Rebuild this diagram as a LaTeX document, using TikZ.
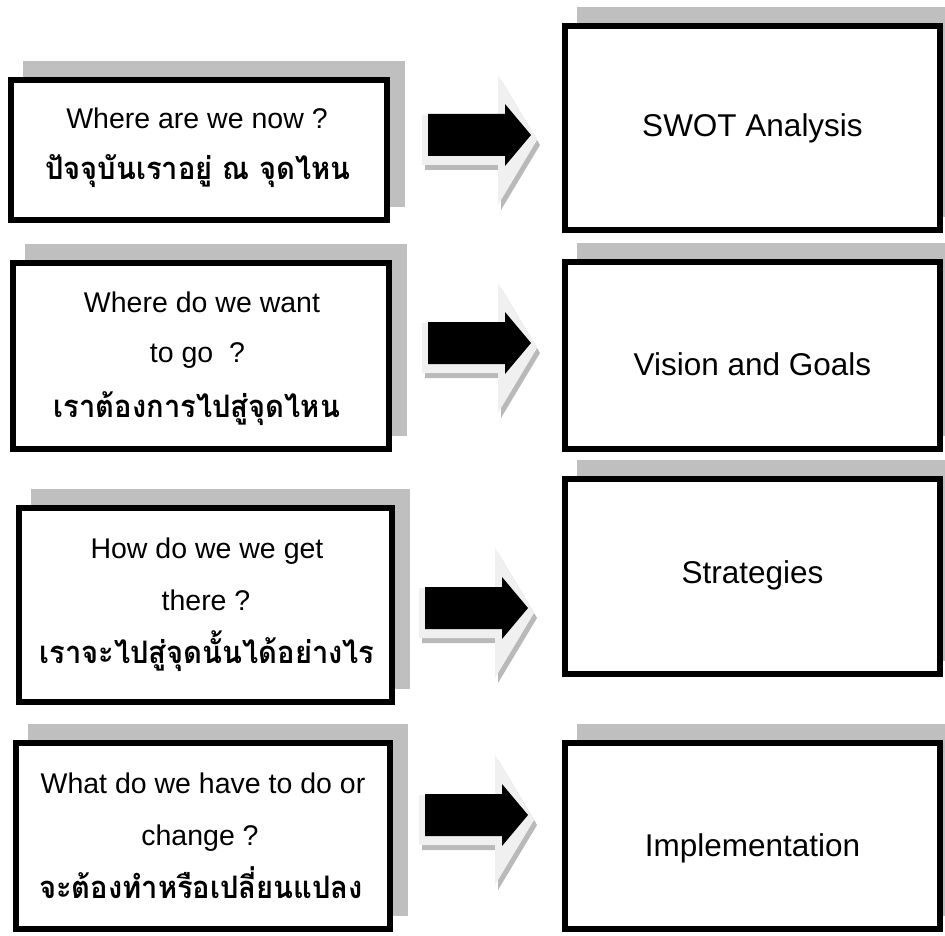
\documentclass[tikz,border=0pt]{standalone}
\usepackage{fontspec}
\setmainfont{Liberation Sans}
\newfontfamily\thaifont[Script=Thai, FakeStretch=0.94]{Loma}
\usetikzlibrary{shadows}
\definecolor{shadowgray}{RGB}{191,191,191}
\definecolor{framegray}{RGB}{240,240,240}
\definecolor{edgegray}{RGB}{185,185,185}
\begin{document}
\begin{tikzpicture}[x=1pt,y=-1pt,
  stepbox/.style={draw=black, line width=6pt, fill=white, rectangle, inner sep=0pt,
    general shadow={fill=shadowgray, draw=shadowgray, line width=6pt,
      shadow xshift=15pt, shadow yshift=16pt}},
  entext/.style={font=\fontsize{28.5}{34}\selectfont, anchor=base, inner sep=0pt},
  thtext/.style={font=\thaifont\bfseries\fontsize{31}{36}\selectfont, anchor=base, inner sep=0pt},
  rtext/.style={font=\fontsize{31.5}{38}\selectfont, anchor=base, inner sep=0pt},
  blockarrow/.pic={
    % drop edge of the raised arrow
    \fill[edgegray] (-3,-15) -- (73,-15) -- (73,-55) -- (112,10) -- (73,75) -- (73,35) -- (-3,35) -- cycle;
    % light bevel frame
    \fill[framegray] (-6,-20) -- (70,-20) -- (70,-60) -- (109,5) -- (70,70) -- (70,30) -- (-6,30) -- cycle;
    % black face
    \fill[black] (0,-21) -- (77,-21) -- (77,-31) -- (103,0) -- (77,31) -- (77,21) -- (0,21) -- cycle;
  }]
\useasboundingbox (0,0) rectangle (945,936);

% question boxes (left column)
\node[stepbox, minimum width=376pt, minimum height=140pt] (L1) at (199,150) {};
\node[stepbox, minimum width=376pt, minimum height=186pt] (L2) at (201,356) {};
\node[stepbox, minimum width=373pt, minimum height=194pt] (L3) at (205.5,605) {};
\node[stepbox, minimum width=374pt, minimum height=186pt] (L4) at (203,836) {};

% answer boxes (right column)
\node[stepbox, minimum width=375pt, minimum height=204pt] (R1) at (752.5,128) {};
\node[stepbox, minimum width=375pt, minimum height=187pt] (R2) at (752.5,355.5) {};
\node[stepbox, minimum width=375pt, minimum height=195pt] (R3) at (752.5,576.5) {};
\node[stepbox, minimum width=375pt, minimum height=186pt] (R4) at (752.5,836) {};

% question texts
\node[entext] (L1a) at (197,129) {Where are we now ?};
\node[thtext] (L1b) at (198,180) {ปัจจุบันเราอยู่ ณ จุดไหน};
\node[entext] (L2a) at (202,312) {Where do we want};
\node[entext] (L2b) at (197.5,362) {to go\ \ ?};
\node[thtext] (L2c) at (197,417) {เราต้องการไปสู่จุดไหน};
\node[entext] (L3a) at (207,558) {How do we we get};
\node[entext] (L3b) at (206,610) {there ?};
\node[thtext] (L3c) at (207,663) {เราจะไปสู่จุดนั้นได้อย่างไร};
\node[entext] (L4a) at (203,793) {What do we have to do or};
\node[entext] (L4b) at (200,845) {change ?};
\node[thtext] (L4c) at (201,898) {จะต้องทำหรือเปลี่ยนแปลง};

% answer texts
\node[rtext] (R1a) at (752.5,137) {SWOT Analysis};
\node[rtext] (R2a) at (752.5,375) {Vision and Goals};
\node[rtext] (R3a) at (752.5,583) {Strategies};
\node[rtext] (R4a) at (752.5,856) {Implementation};

% block arrows between the columns
\coordinate (A1) at (428,135);
\coordinate (A2) at (428,343);
\coordinate (A3) at (425,608);
\coordinate (A4) at (425,815);
\foreach \a in {A1,A2,A3,A4} \pic at (\a) {blockarrow};
\end{tikzpicture}
\end{document}
